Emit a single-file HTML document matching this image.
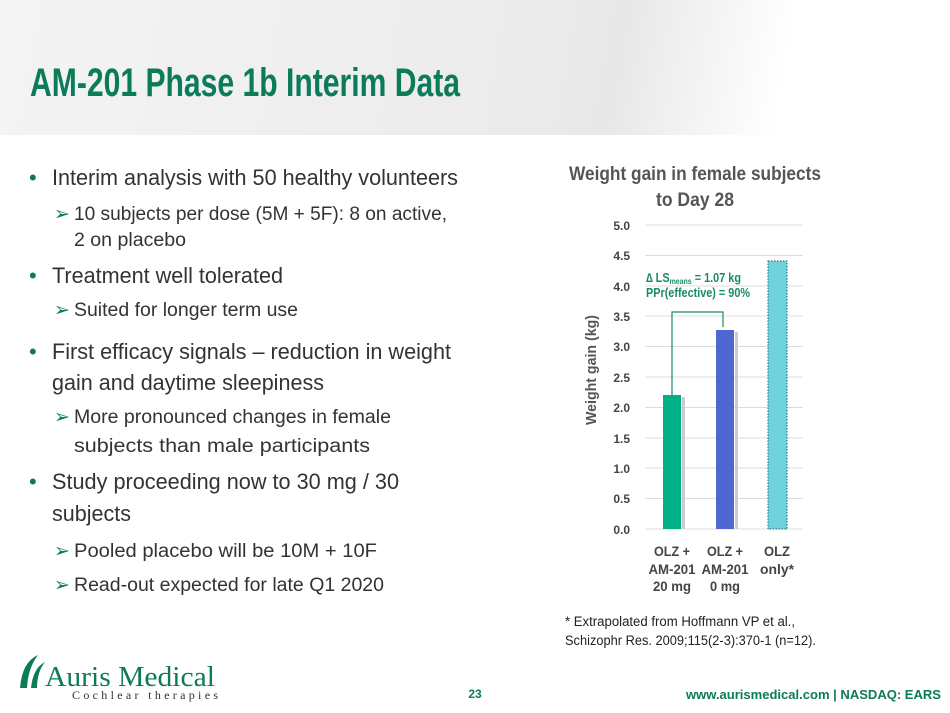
<!DOCTYPE html>
<html><head><meta charset="utf-8"><style>
body{margin:0;width:950px;height:713px;position:relative;background:#fff;overflow:hidden}
.hdr{position:absolute;left:0;top:0;width:950px;height:135px;background:linear-gradient(100deg,#f4f4f4 0%,#ececec 50%,#e8e8e8 65%,#fff 82%)}
svg{position:absolute;left:0;top:0}
</style></head><body>
<div class="hdr"></div>
<svg width="950" height="713" font-family="Liberation Sans,sans-serif">
<text x="30" y="96" font-size="40" font-weight="bold" fill="#0c7b5a" textLength="430" lengthAdjust="spacingAndGlyphs">AM-201 Phase 1b Interim Data</text>

<g font-size="22" fill="#333">
<text x="29" y="185" fill="#0c7b5a">•</text><text x="52" y="185" textLength="406" lengthAdjust="spacingAndGlyphs">Interim analysis with 50 healthy volunteers</text>
<text x="29" y="283" fill="#0c7b5a">•</text><text x="52" y="283" textLength="231" lengthAdjust="spacingAndGlyphs">Treatment well tolerated</text>
<text x="29" y="359" fill="#0c7b5a">•</text><text x="52" y="359" textLength="399" lengthAdjust="spacingAndGlyphs">First efficacy signals – reduction in weight</text>
<text x="52" y="390" textLength="272" lengthAdjust="spacingAndGlyphs">gain and daytime sleepiness</text>
<text x="29" y="489" fill="#0c7b5a">•</text><text x="52" y="489" textLength="347" lengthAdjust="spacingAndGlyphs">Study proceeding now to 30 mg / 30</text>
<text x="52" y="521" textLength="79" lengthAdjust="spacingAndGlyphs">subjects</text>
</g>
<g font-size="19" fill="#333">
<text x="54" y="220" fill="#0c7b5a">➢</text><text x="74" y="220" textLength="373" lengthAdjust="spacingAndGlyphs">10 subjects per dose (5M + 5F): 8 on active,</text>
<text x="74" y="246" textLength="112" lengthAdjust="spacingAndGlyphs">2 on placebo</text>
<text x="54" y="316" fill="#0c7b5a">➢</text><text x="74" y="316" textLength="224" lengthAdjust="spacingAndGlyphs">Suited for longer term use</text>
<text x="54" y="423" fill="#0c7b5a">➢</text><text x="74" y="423" textLength="317" lengthAdjust="spacingAndGlyphs">More pronounced changes in female</text>
<text x="74" y="452" textLength="296" lengthAdjust="spacingAndGlyphs">subjects than male participants</text>
<text x="54" y="557" fill="#0c7b5a">➢</text><text x="74" y="557" textLength="303" lengthAdjust="spacingAndGlyphs">Pooled placebo will be 10M + 10F</text>
<text x="54" y="591" fill="#0c7b5a">➢</text><text x="74" y="591" textLength="310" lengthAdjust="spacingAndGlyphs">Read-out expected for late Q1 2020</text>
</g>

<text x="569" y="180" font-size="19" font-weight="bold" fill="#555" textLength="252" lengthAdjust="spacingAndGlyphs">Weight gain in female subjects</text>
<text x="656" y="206" font-size="19" font-weight="bold" fill="#555" textLength="78" lengthAdjust="spacingAndGlyphs">to Day 28</text>
<g stroke="#dcdcdc" stroke-width="1">
<line x1="645" x2="803" y1="225" y2="225"/><line x1="645" x2="803" y1="255.5" y2="255.5"/>
<line x1="645" x2="803" y1="286" y2="286"/><line x1="645" x2="803" y1="316" y2="316"/>
<line x1="645" x2="803" y1="346.5" y2="346.5"/><line x1="645" x2="803" y1="377" y2="377"/>
<line x1="645" x2="803" y1="407.5" y2="407.5"/><line x1="645" x2="803" y1="438" y2="438"/>
<line x1="645" x2="803" y1="468" y2="468"/><line x1="645" x2="803" y1="498.5" y2="498.5"/>
<line x1="645" x2="803" y1="529" y2="529"/>
</g>
<g font-size="12" font-weight="bold" fill="#444" text-anchor="end">
<text x="630" y="230">5.0</text><text x="630" y="260">4.5</text><text x="630" y="291">4.0</text>
<text x="630" y="321">3.5</text><text x="630" y="351">3.0</text><text x="630" y="382">2.5</text>
<text x="630" y="412">2.0</text><text x="630" y="443">1.5</text><text x="630" y="473">1.0</text>
<text x="630" y="503">0.5</text><text x="630" y="534">0.0</text>
</g>
<text transform="translate(596,425) rotate(-90)" font-size="15" font-weight="bold" fill="#555" textLength="110" lengthAdjust="spacingAndGlyphs">Weight gain (kg)</text>
<rect x="682" y="397" width="3" height="132" fill="#ccc"/>
<rect x="663" y="395" width="18" height="134" fill="#00b085"/>
<rect x="735" y="332" width="3" height="197" fill="#ccc"/>
<rect x="716" y="330" width="18" height="199" fill="#4f67cf"/>
<rect x="768" y="261" width="19" height="268" fill="#6fd3df" stroke="#2a5a66" stroke-width="1" stroke-dasharray="1.5,1.5"/>
<polyline points="672,395 672,312 723,312 723,327" fill="none" stroke="#1a8a6a" stroke-width="1.2"/>
<text x="646" y="282" font-size="12.5" font-weight="bold" fill="#1a8a6a" textLength="95" lengthAdjust="spacingAndGlyphs">∆ LS<tspan font-size="8" dy="2">means</tspan><tspan dy="-2"> = 1.07 kg</tspan></text>
<text x="646" y="297" font-size="12.5" font-weight="bold" fill="#1a8a6a" textLength="104" lengthAdjust="spacingAndGlyphs">PPr(effective) = 90%</text>
<g font-size="14" font-weight="bold" fill="#444" text-anchor="middle">
<text x="672" y="556" textLength="36" lengthAdjust="spacingAndGlyphs">OLZ +</text><text x="672" y="574" textLength="47" lengthAdjust="spacingAndGlyphs">AM-201</text><text x="672" y="591" textLength="38" lengthAdjust="spacingAndGlyphs">20 mg</text>
<text x="725" y="556" textLength="36" lengthAdjust="spacingAndGlyphs">OLZ +</text><text x="725" y="574" textLength="47" lengthAdjust="spacingAndGlyphs">AM-201</text><text x="725" y="591" textLength="30" lengthAdjust="spacingAndGlyphs">0 mg</text>
<text x="777" y="556" textLength="26" lengthAdjust="spacingAndGlyphs">OLZ</text><text x="777" y="574" textLength="34" lengthAdjust="spacingAndGlyphs">only*</text>
</g>
<text x="565" y="626" font-size="13.5" fill="#222" textLength="230" lengthAdjust="spacingAndGlyphs">* Extrapolated from Hoffmann VP et al.,</text>
<text x="565" y="645" font-size="13.5" fill="#222" textLength="251" lengthAdjust="spacingAndGlyphs">Schizophr Res. 2009;115(2-3):370-1 (n=12).</text>
<g fill="#0c7b5a"><path d="M20 688 Q22 662 38 655 Q28 668 27 688 Z"/><path d="M31 688 Q33 668 45 662 Q37 672 37 688 Z"/></g>
<text x="45" y="686" font-family="Liberation Serif,serif" font-size="29" fill="#0c7b5a" textLength="170" lengthAdjust="spacingAndGlyphs">Auris Medical</text>
<text x="72" y="699" font-family="Liberation Serif,serif" font-size="12" fill="#333" textLength="146" lengthAdjust="spacing">Cochlear therapies</text>
<text x="475" y="698" text-anchor="middle" font-size="12" font-weight="bold" fill="#0c7b5a">23</text>
<text x="686" y="699" font-size="13" font-weight="bold" fill="#0c7b5a" textLength="255" lengthAdjust="spacingAndGlyphs">www.aurismedical.com |  NASDAQ: EARS</text>
</svg>
</body></html>
